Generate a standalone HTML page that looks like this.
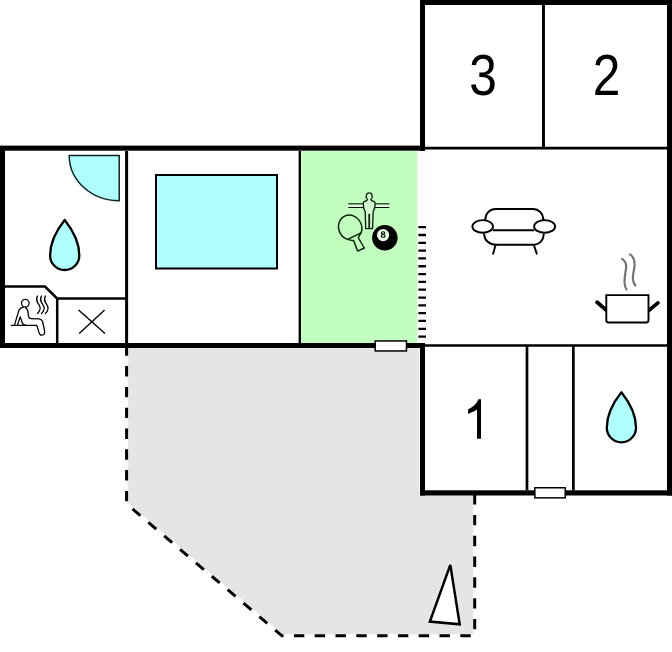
<!DOCTYPE html>
<html><head><meta charset="utf-8"><title>Floor plan</title>
<style>
html,body{margin:0;padding:0;background:#fff;width:672px;height:652px;overflow:hidden}
svg{display:block;position:absolute;left:0;top:0}
text{font-family:"Liberation Sans",sans-serif}
</style></head><body>
<svg width="672" height="652" viewBox="0 0 672 652">
<!-- terrace -->
<polygon points="128.1,348 128.1,503.3 282.6,634.3 473.2,634.3 473.2,495.5 419.2,495.5 419.2,348" fill="#e5e5e5"/>
<path d="M126.6 345.3 L126.6 504 L282 635.8 L474.7 635.8 L474.7 495" fill="none" stroke="#000" stroke-width="3" stroke-dasharray="10.4 10.4"/>
<!-- green room -->
<rect x="300.5" y="151" width="116.8" height="192.3" fill="#c2ffbe"/>
<!-- pool -->
<rect x="156" y="175" width="121" height="93.5" fill="#b0ffff" stroke="#000" stroke-width="2"/>
<!-- shower -->
<path d="M69.2 155.5 L119.2 155.5 L119.2 200.8 A50 45.3 0 0 1 69.2 155.5 Z" fill="#b0ffff" stroke="#0a2626" stroke-width="1.5"/>
<!-- drops -->
<path d="M64.7 220 C57.5 229 50.1 242 50.1 255.4 A14.6 14.6 0 0 0 79.3 255.4 C79.3 242 71.9 229 64.7 220 Z" fill="#b0ffff" stroke="#000" stroke-width="2.3" stroke-linejoin="round"/>
<path d="M621.4 392.3 C614.2 401.3 606.8 414.3 606.8 427.7 A14.6 14.6 0 0 0 636 427.7 C636 414.3 628.6 401.3 621.4 392.3 Z" fill="#b0ffff" stroke="#000" stroke-width="2.3" stroke-linejoin="round"/>

<!-- thick walls -->
<g fill="#000">
<rect x="420" y="0" width="252" height="5"/>
<rect x="420" y="0" width="5" height="151"/>
<rect x="667" y="0" width="5" height="495.5"/>
<rect x="0" y="145.6" width="425" height="5.1"/>
<rect x="0" y="146" width="5" height="202"/>
<rect x="0" y="343" width="425" height="5"/>
<rect x="420" y="343" width="5" height="152.5"/>
<rect x="420" y="490.3" width="252" height="5.2"/>
</g>
<!-- thin walls -->
<g stroke="#000" stroke-width="2.5" fill="none">
<line x1="425" y1="148.1" x2="667" y2="148.1" stroke-width="2.6"/>
<line x1="543.5" y1="5" x2="543.5" y2="148" stroke-width="2.9"/>
<line x1="425" y1="345.6" x2="667" y2="345.6"/>
<line x1="527" y1="345.6" x2="527" y2="490.3" stroke-width="2.7"/>
<line x1="573.35" y1="345.6" x2="573.35" y2="490.3" stroke-width="2.7"/>
<line x1="126.6" y1="151" x2="126.6" y2="343" stroke-width="3"/>
<line x1="299.8" y1="151" x2="299.8" y2="343" stroke-width="2.4"/>
<polyline points="5,286.5 45,286.5 57.2,298.5 57.2,343"/>
<line x1="57.2" y1="298.5" x2="126.6" y2="298.5"/>
</g>
<!-- X -->
<g stroke="#000" stroke-width="1.4">
<line x1="78.6" y1="310" x2="105" y2="333.5"/>
<line x1="104.6" y1="310" x2="79.2" y2="333.5"/>
</g>
<!-- stairs -->
<line x1="422.2" y1="226.05" x2="422.2" y2="337.8" stroke="#000" stroke-width="7.6" stroke-dasharray="2.3 5.514"/>
<!-- windows -->
<rect x="375.25" y="340.95" width="31.2" height="10" fill="#fff" stroke="#000" stroke-width="1.5"/>
<rect x="534.85" y="487.75" width="30.4" height="10.1" fill="#fff" stroke="#000" stroke-width="1.5"/>
<!-- sauna icon -->
<g fill="none" stroke="#000" stroke-width="1.3" stroke-linecap="round" stroke-linejoin="round">
<circle cx="25.3" cy="303.2" r="3.8"/>
<path d="M23.2 307.4 C21 307.6 19.6 308.6 18.9 310.4 L14.6 324.6"/>
<path d="M17.6 324.6 L20.2 316.9 L22.6 323.6 C23.2 324.6 24 325 25.5 325.2"/>
<path d="M25.6 307.6 C27 308.3 27.6 309.6 27.9 311.4 L28.6 316.6 C28.9 318 29.6 318.6 31 318.6 L39 318.8 C41 319 42 320 42.6 321.6 L44.6 331 C45 333.6 43.6 335.2 41.9 335.2 C40.4 335.2 39.4 334.2 39 332.6 L37.2 326.4 C36.9 325.6 36.4 325.3 35.6 325.3"/>
<path d="M11.2 325.3 L36.6 325.3"/>
<path d="M37.5 296 C36.3 298.2 36.3 300.4 37.6 302.6 C39.3 305.4 40.6 307.2 40.1 309 C39.8 310.6 38.9 312.2 37.5 313.5"/>
<path d="M41.5 296 C40.3 298.2 40.3 300.4 41.6 302.6 C43.3 305.4 44.6 307.2 44.1 309 C43.8 310.6 42.9 312.2 41.5 313.5"/>
<path d="M45.4 296 C44.2 298.2 44.2 300.4 45.5 302.6 C47.2 305.4 48.5 307.2 48 309 C47.7 310.6 46.8 312.2 45.4 313.5"/>
</g>
<!-- foosball figure -->
<rect x="348.3" y="203.1" width="41" height="1.6" fill="#1c4a28"/>
<rect x="348.3" y="204.7" width="41" height="2.3" fill="#e2f8e0"/>
<rect x="348.3" y="207" width="41" height="1" fill="#051005"/>
<path d="M367.6 199.6 C366.2 198.6 365.9 197 366.2 195.6 C366.6 193.8 367.8 192.9 369.2 192.9 C370.6 192.9 371.8 193.8 372.1 195.6 C372.4 197 372.1 198.6 370.8 199.6 C371.4 200.8 373.5 201.2 374.6 201.8 C375.3 202.3 375.2 203.2 375.1 204.5 L374.5 208.6 L373.2 211.5 L372.7 224 L372.6 228.6 L365.7 228.6 L365.6 224 L365.2 211.5 L363.8 208.6 L363.3 204.5 C363.2 203.2 363.1 202.3 363.8 201.8 C364.9 201.2 367 200.8 367.6 199.6 Z" fill="#d2fccf" stroke="#0b200b" stroke-width="1.35" stroke-linejoin="round"/>
<path d="M369.2 213.8 L369.2 228.2" stroke="#1a2e1a" stroke-width="1.9"/>
<!-- paddle -->
<g stroke="#0a1f0a" stroke-width="1.45" fill="none" stroke-linejoin="round">
<path d="M347.6 239.4 A11.5 12.6 -25 1 1 361.1 232.8 Z"/>
<path d="M347.6 239.4 Q351 240.6 353.6 240.4 L357.6 251.1 L364.3 248 L358.4 238 Q359.5 235 361.1 232.8"/>
</g>
<!-- 8 ball -->
<circle cx="384.85" cy="237.85" r="12.75" fill="#000"/>
<circle cx="383.1" cy="235.1" r="6.1" fill="#e8ffe6"/>
<g fill="none" stroke="#000" stroke-width="1.1"><ellipse cx="383.1" cy="232.9" rx="1.7" ry="1.2"/><ellipse cx="383.1" cy="235.9" rx="1.9" ry="1.35"/></g>
<!-- sofa -->
<g fill="none" stroke="#000" stroke-width="1.9" stroke-linecap="butt">
<path d="M485.3 220 C485.3 213.5 489.5 209 495.8 209 L532.8 209 C539 209 543.3 213.5 543.3 220"/>
<path d="M492.9 230.2 L534.2 230.2"/>
<path d="M484 233.6 C484.3 240 489 244.7 495.8 244.7 L532.8 244.7 C539.6 244.7 543.6 240 543.8 233.6"/>
<ellipse cx="482.7" cy="226.4" rx="10.3" ry="6.3"/>
<ellipse cx="544.6" cy="226.4" rx="10.5" ry="6.3"/>
<path d="M495.4 245.4 L492.9 254.4"/>
<path d="M534 245.4 L537 254.4"/>
</g>
<!-- pot -->
<g fill="none">
<path d="M597.1 302.3 L606 309.9" stroke="#000" stroke-width="3.8" stroke-linecap="round"/>
<path d="M657.9 302.9 L648.6 310.6" stroke="#000" stroke-width="3.8" stroke-linecap="round"/>
<path d="M606.3 295.1 L648.5 295.1 L648.5 320.3 Q648.5 322.5 646.3 322.5 L608.5 322.5 Q606.3 322.5 606.3 320.3 Z" fill="#fff" stroke="#000" stroke-width="1.9"/>
<path d="M622.1 258.8 C625.5 261 626.6 264 626.1 268 C625.4 273 624.2 279 624.6 283.5 C624.9 286.3 625.7 288.3 626.5 289.5" stroke="#747474" stroke-width="2.2" stroke-linecap="round"/>
<path d="M629.9 254.4 C633.2 256.6 634.8 260 634.6 265 C634.4 270 632.6 274 632.9 278.5 C633.1 281.5 634 283.8 635.3 285.5" stroke="#747474" stroke-width="2.2" stroke-linecap="round"/>
</g>
<!-- north arrow -->
<polygon points="450.3,564.9 429.9,621.6 459.7,624.3" fill="#fff" stroke="#000" stroke-width="2.5" stroke-linejoin="miter"/>
<!-- numbers -->
<text font-family="Liberation Sans, sans-serif" transform="translate(483,95.2) scale(0.87,1)" x="0" y="0" font-size="57" text-anchor="middle">3</text>
<text font-family="Liberation Sans, sans-serif" transform="translate(606.6,95.2) scale(0.87,1)" x="0" y="0" font-size="57" text-anchor="middle">2</text>
<path d="M481 399.2 L481 438.8 L477 438.8 L477 409.6 C475 411.2 471.5 412.7 468.1 413.9 L468.1 409.3 C470.5 408.3 473 406.5 475 404.5 C476.8 402.7 477.9 400.8 478.3 399.2 Z" fill="#000"/>
</svg>
</body></html>
